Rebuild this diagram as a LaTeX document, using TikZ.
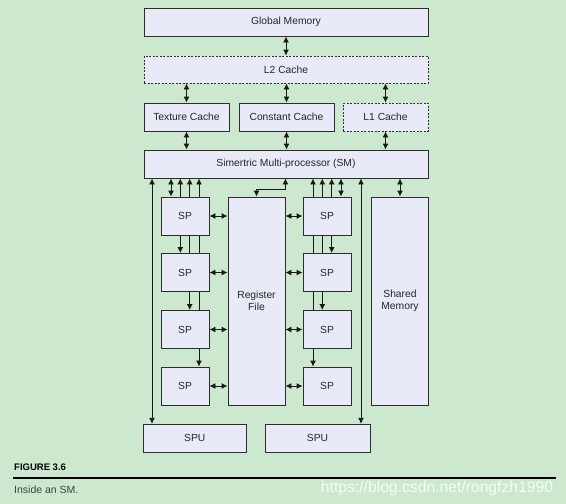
\documentclass[tikz,border=0pt]{standalone}
\usepackage{fontspec}
\setmainfont{Liberation Sans}
\usetikzlibrary{positioning}
\usetikzlibrary{arrows.meta,backgrounds}
\definecolor{bggreen}{RGB}{204,232,207}
\definecolor{boxfill}{RGB}{232,234,247}
\definecolor{boxline}{RGB}{45,45,45}
\begin{document}
\begin{tikzpicture}[x=1pt,y=-1pt,
box/.style={draw=boxline,fill=boxfill,line width=0.9pt,inner sep=0pt,align=center,text=black!85,font=\fontsize{10.3}{12.5}\selectfont},
dbox/.style={box,dash pattern=on 2pt off 1.5pt},
wide/.style={minimum width=284pt,minimum height=28pt},
cache/.style={minimum height=28pt},
sp/.style={box,minimum width=48pt,minimum height=38pt},
tall/.style={box,minimum width=57pt,minimum height=208pt},
dbl/.style={{Latex[length=6pt,width=6pt]}-{Latex[length=6pt,width=6pt]},line width=0.9pt,draw=black!90}]
\node[box,wide] (gm) at (286,22) {Global Memory};
\node[dbox,wide,minimum height=27pt] (l2) at (286,69.5) {L2 Cache};
\node[box,cache,minimum width=85pt] (tex) at (186.5,117) {Texture Cache};
\node[box,cache,minimum width=95pt] (con) at (286.5,117) {Constant Cache};
\node[dbox,cache,minimum width=85pt] (l1) at (385.5,117) {L1 Cache};
\node[box,wide] (sm) at (286,164) {Simertric Multi-processor (SM)};
\foreach \k/\y in {1/216,2/272.5,3/329.5,4/386} {
\node[sp] (spa\k) at (185,\y) {SP};
\node[sp] (spb\k) at (327,\y) {SP};
}
\node[tall] (rf) at (256.5,301) {Register\\File};
\node[tall] (shm) at (400,301) {Shared\\Memory};
\node[box,minimum width=103.5pt,minimum height=28pt] (spua) at (194.75,438.25) {SPU};
\node[box,minimum width=105pt,minimum height=28pt] (spub) at (317.5,438.25) {SPU};
\node[anchor=west,inner sep=0pt,font=\bfseries\fontsize{9.5}{11}\selectfont] (fig) at (14,467) {FIGURE 3.6};
\coordinate (rl) at (13,478);
\coordinate (rr) at (556,478);
\node[anchor=west,inner sep=0pt,text=black!75,font=\fontsize{10.5}{12}\selectfont] (cap) at (14,490) {Inside an SM.};
\node[inner sep=0pt,text=white,opacity=0.85,font=\fontsize{15.7}{18}\selectfont] (wm) at (437,488) {https://blog.csdn.net/rongfzh1990};
\draw[line width=1.3pt] (rl) -- (rr);
\begin{scope}[on background layer]
\fill[bggreen] (0,0) rectangle (566,504);
\draw[dbl] (gm) -- (l2);
\foreach \n in {tex,con,l1} {
\draw[dbl] (l2.south -| \n) -- (\n);
\draw[dbl] (\n) -- (sm.north -| \n);
}
\draw[dbl] (sm.south -| 152,0) -- (spua.north -| 152,0);
\draw[dbl] (sm.south -| 361,0) -- (spub.north -| 361,0);
\draw[dbl] (sm.south -| shm) -- (shm);
\draw[dbl] (sm.south -| rf.north east) -- ++(0,11) -| (rf.north);
\draw[dbl] ([xshift=-14pt]spa1.north) -- ([xshift=-14pt]spa1.north |- sm.south);
\draw[dbl] ([xshift=14pt]spb1.north) -- ([xshift=14pt]spb1.north |- sm.south);
\foreach \k/\dx in {2/-4.7,3/4.7,4/14}
\draw[dbl] ([xshift=\dx pt]spa\k.north) -- ([xshift=\dx pt]spa\k.north |- sm.south);
\foreach \k/\dx in {2/4.7,3/-4.7,4/-14}
\draw[dbl] ([xshift=\dx pt]spb\k.north) -- ([xshift=\dx pt]spb\k.north |- sm.south);
\foreach \k in {1,2,3,4} {
\draw[dbl] (spa\k.east) -- (spa\k.east -| rf.west);
\draw[dbl] (spb\k.west) -- (spb\k.west -| rf.east);
}
\end{scope}
\end{tikzpicture}
\end{document}
